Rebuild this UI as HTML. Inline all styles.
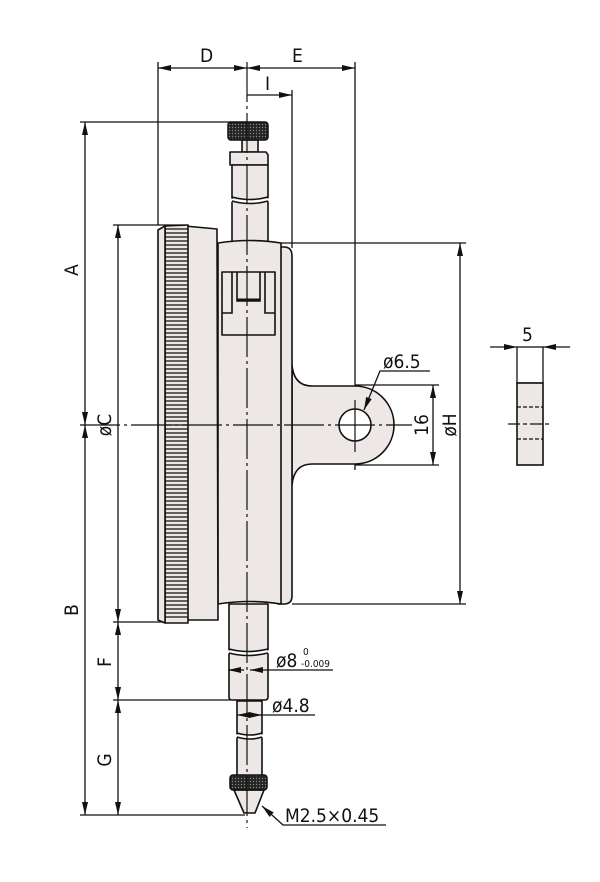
<!DOCTYPE html>
<html><head><style>body{margin:0;background:#fff}svg{display:block}text{font-family:"DejaVu Sans Condensed","Liberation Sans",sans-serif;fill:#111}</style></head><body>
<svg width="600" height="882" viewBox="0 0 600 882" xmlns="http://www.w3.org/2000/svg">
<defs>
<marker id="a" viewBox="0 0 13 6" refX="13" refY="3" markerWidth="13" markerHeight="6" orient="auto-start-reverse" markerUnits="userSpaceOnUse"><path d="M0,0L13,3L0,6z" fill="#111"/></marker>
<pattern id="k" width="3" height="3" patternUnits="userSpaceOnUse"><rect width="3" height="3" fill="#222"/><circle cx="1.5" cy="1.5" r="0.7" fill="#888"/></pattern>
</defs>
<g stroke="#111" stroke-width="1.3" fill="none">
<line x1="80" y1="122" x2="232" y2="122"/>
<line x1="80" y1="815" x2="245" y2="815"/>
<line x1="113" y1="225" x2="185" y2="225"/>
<line x1="113" y1="622" x2="165" y2="622"/>
<line x1="113" y1="700" x2="230" y2="700"/>
<line x1="158" y1="62" x2="158" y2="225"/>
<line x1="355" y1="62" x2="355" y2="470"/>
<line x1="292" y1="90" x2="292" y2="248"/>
<line x1="281" y1="243" x2="466" y2="243"/>
<line x1="292" y1="604" x2="466" y2="604"/>
<line x1="355" y1="385" x2="439" y2="385"/>
<line x1="355" y1="465" x2="439" y2="465"/>
<line x1="85" y1="122" x2="85" y2="425" marker-start="url(#a)" marker-end="url(#a)"/>
<line x1="85" y1="425" x2="85" y2="815" marker-start="url(#a)" marker-end="url(#a)"/>
<line x1="118" y1="225" x2="118" y2="622" marker-start="url(#a)" marker-end="url(#a)"/>
<line x1="118" y1="622" x2="118" y2="700" marker-start="url(#a)" marker-end="url(#a)"/>
<line x1="118" y1="700" x2="118" y2="815" marker-start="url(#a)" marker-end="url(#a)"/>
<line x1="158" y1="68" x2="247" y2="68" marker-start="url(#a)" marker-end="url(#a)"/>
<line x1="247" y1="68" x2="355" y2="68" marker-start="url(#a)" marker-end="url(#a)"/>
<line x1="247" y1="95" x2="292" y2="95" marker-end="url(#a)"/>
<line x1="460" y1="243" x2="460" y2="604" marker-start="url(#a)" marker-end="url(#a)"/>
<line x1="433" y1="385" x2="433" y2="465" marker-start="url(#a)" marker-end="url(#a)"/>
</g>
<g stroke="#111" stroke-width="1.6" fill="#ede7e5" stroke-linejoin="round">
<path d="M292,365 Q294,386 312,386 L355,386 A39,39 0 0 1 355,464 L312,464 Q294,464 292,485 Z"/>
<circle cx="355" cy="425" r="16" fill="#fff"/>
<path d="M278,247 L284,247 Q292,247 292,256 L292,596 Q292,604 284,604 L278,604 Z"/>
<rect x="242" y="140" width="16" height="12"/>
<path d="M230,152 L266,152 L268,155 L268,165 L230,165 L230,155 Z"/>
<path d="M232,165 L268,165 L268,245 L232,245 Z"/>
<path d="M218,243 Q250,238 281,243 L281,604 Q250,599 218,604 Z"/>
<path d="M185,226 L217,229 L218,620 L185,620 Z"/>
<path d="M165,226 L188,225 L188,623 L165,623 Z"/>
<path d="M158,230 L165,226 L165,623 L158,620 Z"/>
<rect x="222" y="272" width="53" height="63" fill="#ede7e5"/>
<path d="M229,604 L268,604 L268,697 Q268,700 265,700 L232,700 Q229,700 229,697 Z"/>
<path d="M237,701 L262,701 L262,777 L237,777 Z"/>
<path d="M234,790 L264,790 L255,813 L244,813 Z"/>
</g>
<g stroke="#111" stroke-width="1.2">
<path d="M165,229H188M165,233H188M165,237H188M165,241H188M165,245H188M165,249H188M165,253H188M165,257H188M165,261H188M165,265H188M165,269H188M165,273H188M165,277H188M165,281H188M165,285H188M165,289H188M165,293H188M165,297H188M165,301H188M165,305H188M165,309H188M165,313H188M165,317H188M165,321H188M165,325H188M165,329H188M165,333H188M165,337H188M165,341H188M165,345H188M165,349H188M165,353H188M165,357H188M165,361H188M165,365H188M165,369H188M165,373H188M165,377H188M165,381H188M165,385H188M165,389H188M165,393H188M165,397H188M165,401H188M165,405H188M165,409H188M165,413H188M165,417H188M165,421H188M165,425H188M165,429H188M165,433H188M165,437H188M165,441H188M165,445H188M165,449H188M165,453H188M165,457H188M165,461H188M165,465H188M165,469H188M165,473H188M165,477H188M165,481H188M165,485H188M165,489H188M165,493H188M165,497H188M165,501H188M165,505H188M165,509H188M165,513H188M165,517H188M165,521H188M165,525H188M165,529H188M165,533H188M165,537H188M165,541H188M165,545H188M165,549H188M165,553H188M165,557H188M165,561H188M165,565H188M165,569H188M165,573H188M165,577H188M165,581H188M165,585H188M165,589H188M165,593H188M165,597H188M165,601H188M165,605H188M165,609H188M165,613H188M165,617H188"/>
</g>
<g stroke="#111" stroke-width="1.6" fill="none">
<path d="M232,272 V313 H222 M265,272 V313 H275 M237,272 V301 H260 V272"/>
<path d="M237,300 H260" stroke-width="3"/>
</g>
<!-- break masks -->
<path d="M228,198 Q250,203 270,198 L270,201 Q250,206 228,201 Z" fill="#fff"/>
<path d="M227,650 Q248,655 270,650 L270,653 Q248,658 227,653 Z" fill="#fff"/>
<path d="M235,734 Q250,738 264,734 L264,737 Q250,741 235,737 Z" fill="#fff"/>
<g stroke="#111" stroke-width="1.6" fill="none">
<path d="M232,197 Q250,202 268,197 M232,201 Q250,206 268,201"/>
<path d="M229,649 Q248,654 268,649 M229,653 Q248,658 268,653"/>
<path d="M237,733 Q250,737 262,733 M237,737 Q250,741 262,737"/>
</g>
<rect x="228" y="122" width="40" height="18" rx="3" fill="url(#k)" stroke="#111" stroke-width="1.5"/>
<rect x="230" y="775" width="37" height="15" rx="3" fill="url(#k)" stroke="#111" stroke-width="1.5"/>
<g stroke="#111" stroke-width="1.2" fill="none">
<line x1="247" y1="62" x2="247" y2="828" stroke-dasharray="40,4,3,4"/>
<line x1="80" y1="425" x2="412" y2="425" stroke-dasharray="40,4,3,4"/>
<line x1="355" y1="400" x2="355" y2="452"/>
</g>
<g stroke="#111" stroke-width="1.3" fill="none">
<line x1="228" y1="670" x2="244" y2="670" marker-start="url(#a)"/>
<line x1="250" y1="670" x2="268" y2="670" marker-start="url(#a)"/>
<line x1="268" y1="670" x2="333" y2="670"/>
<line x1="237" y1="715" x2="249" y2="715" marker-start="url(#a)"/>
<line x1="247" y1="715" x2="262" y2="715" marker-end="url(#a)"/>
<line x1="262" y1="715" x2="315" y2="715"/>
<path d="M386,825 H283 L262,806" marker-end="url(#a)"/>
<path d="M430,371 H380 L364,410" marker-end="url(#a)"/>
<rect x="517" y="347" width="26" height="36" fill="#fff"/>
<rect x="517" y="383" width="26" height="82" fill="#ede7e5" stroke-width="1.6"/>
<line x1="517" y1="407" x2="543" y2="407" stroke-dasharray="4,2"/>
<line x1="517" y1="439" x2="543" y2="439" stroke-dasharray="4,2"/>
<line x1="508" y1="424" x2="552" y2="424" stroke-dasharray="12,3,4,3"/>
<line x1="490" y1="347" x2="517" y2="347" marker-end="url(#a)"/>
<line x1="570" y1="347" x2="543" y2="347" marker-end="url(#a)"/>
</g>
<g font-size="19">
<text x="200" y="62">D</text>
<text x="292" y="62">E</text>
<text x="265" y="90">I</text>
<text transform="translate(78,270) rotate(-90)" text-anchor="middle">A</text>
<text transform="translate(78,610) rotate(-90)" text-anchor="middle">B</text>
<text transform="translate(111,425) rotate(-90)" text-anchor="middle">øC</text>
<text transform="translate(111,662) rotate(-90)" text-anchor="middle">F</text>
<text transform="translate(111,760) rotate(-90)" text-anchor="middle">G</text>
<text transform="translate(428,425) rotate(-90)" text-anchor="middle">16</text>
<text transform="translate(456,425) rotate(-90)" text-anchor="middle">øH</text>
<text x="383" y="368">ø6.5</text>
<text x="276" y="667">ø8</text>
<text x="272" y="712">ø4.8</text>
<text x="285" y="822">M2.5×0.45</text>
<text x="522" y="341">5</text>
</g>
<text x="303" y="655" font-size="10">0</text>
<text x="301" y="667" font-size="10">-0.009</text>
</svg>
</body></html>
